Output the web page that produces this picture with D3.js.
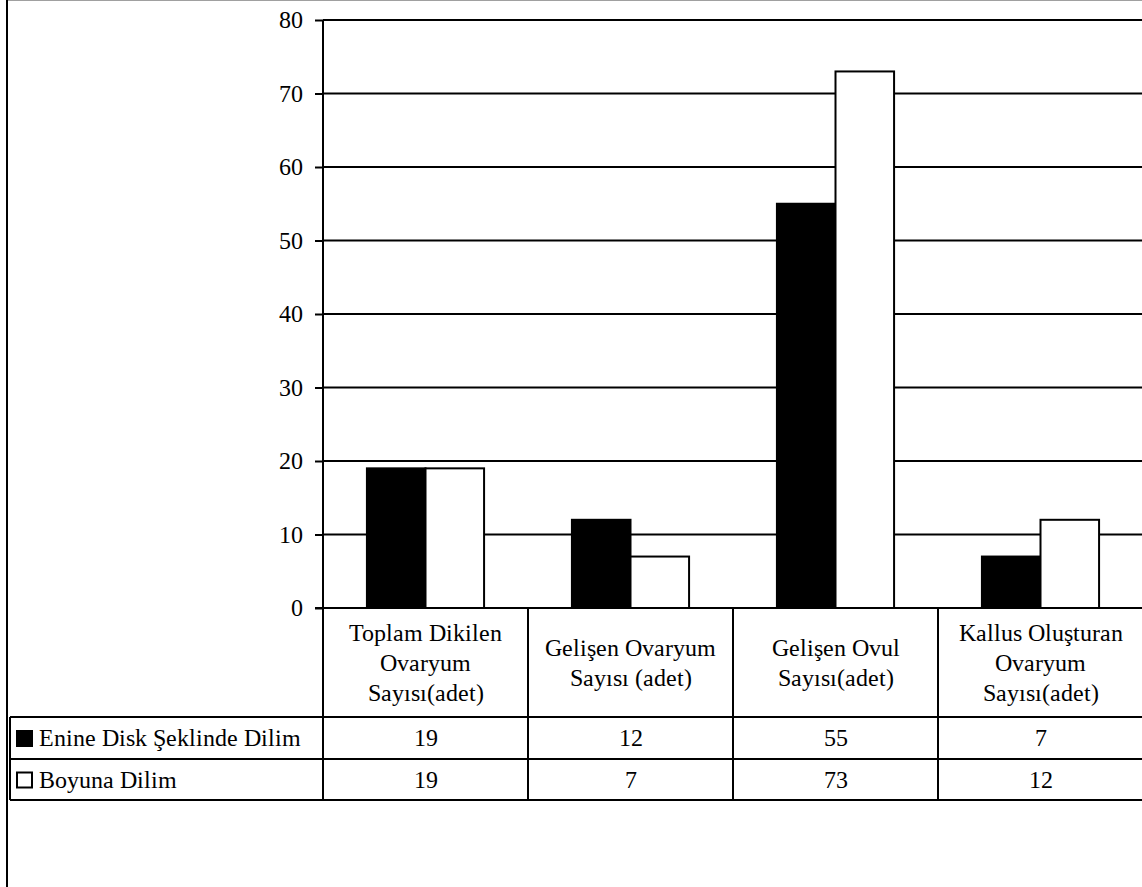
<!DOCTYPE html>
<html>
<head>
<meta charset="utf-8">
<script src="https://cdn.jsdelivr.net/npm/d3@7"></script>
<style>
  @font-face {
    font-family: ChartSerif;
    src: local("Liberation Serif"), local("LiberationSerif"), local("Tinos"), local("Times New Roman");
  }
</style>
</head>
<body style="margin:0; background:#fff">
<svg id="chart" width="1142" height="887" style="display:block"></svg>
<script>
// Ovaryum kültürü sonuçları: kesim şekline göre sayılar
const categories = [
  ["Toplam Dikilen", "Ovaryum", "Sayısı(adet)"],
  ["Gelişen Ovaryum", "Sayısı (adet)"],
  ["Gelişen Ovul", "Sayısı(adet)"],
  ["Kallus Oluşturan", "Ovaryum", "Sayısı(adet)"]
];
const seriesNames = ["Enine Disk Şeklinde Dilim", "Boyuna Dilim"];
const enineValues = [19, 12, 55, 7];
const boyunaValues = [19, 7, 73, 12];
const yTicks = [0, 10, 20, 30, 40, 50, 60, 70, 80];

const series = [
  { name: seriesNames[0], values: enineValues, fill: "#000" },
  { name: seriesNames[1], values: boyunaValues, fill: "#fff" }
];

const W = 1142, H = 887;
const plot = { left: 323, right: 1143, top: 20, bottom: 608 };
const table = { left: 10, headerBottom: 717, row1Bottom: 759, row2Bottom: 800 };
const fontSize = 24;
const FONT = "ChartSerif, Liberation Serif, Tinos, serif";

const svg = d3.select("#chart");

// outer chart frame
svg.append("line")
  .attr("x1", 7).attr("x2", W).attr("y1", 0.5).attr("y2", 0.5)
  .attr("stroke", "#a0a0a0").attr("stroke-width", 1);
svg.append("line")
  .attr("x1", 7).attr("x2", 7).attr("y1", 0).attr("y2", H)
  .attr("stroke", "#000").attr("stroke-width", 2);

const catIdx = d3.range(categories.length);
const x0 = d3.scaleBand().domain(catIdx).range([plot.left, plot.right]).padding(0);
const bw = x0.bandwidth();
const gap = bw * 1.5 / 3.5; // gap width 150%
const x1 = d3.scaleBand().domain(d3.range(series.length))
  .range([gap / 2, bw - gap / 2]).padding(0);

const y = d3.scaleLinear().domain([0, 80]).range([plot.bottom, plot.top]);

// gridlines
svg.append("g")
  .selectAll("line")
  .data(yTicks.filter(t => t > 0))
  .join("line")
  .attr("x1", plot.left).attr("x2", W)
  .attr("y1", d => y(d)).attr("y2", d => y(d))
  .attr("stroke", "#000").attr("stroke-width", 2);

// bars
const groups = svg.append("g")
  .selectAll("g")
  .data(catIdx)
  .join("g")
  .attr("transform", i => `translate(${x0(i)},0)`);

groups.selectAll("rect")
  .data(i => series.map((s, si) => ({ si, v: s.values[i], fill: s.fill })))
  .join("rect")
  .attr("x", d => x1(d.si))
  .attr("width", x1.bandwidth())
  .attr("y", d => y(d.v))
  .attr("height", d => y(0) - y(d.v))
  .attr("fill", d => d.fill)
  .attr("stroke", "#000").attr("stroke-width", 2);

// y axis
const yAxis = d3.axisLeft(y).tickValues(yTicks).tickSize(8).tickPadding(12);
const gy = svg.append("g").attr("transform", `translate(${plot.left},0)`).call(yAxis);
gy.attr("font-family", FONT).attr("font-size", fontSize);
gy.select(".domain").attr("stroke", "#000").attr("stroke-width", 2)
  .attr("d", `M0,${plot.bottom}V${plot.top}`);
gy.selectAll(".tick line").attr("stroke", "#000").attr("stroke-width", 2);
gy.selectAll(".tick text")
  .attr("font-family", FONT)
  .attr("font-size", fontSize)
  .attr("fill", "#000")
  .attr("dy", "0.33em");

// category axis line
svg.append("line")
  .attr("x1", plot.left - 8).attr("x2", W)
  .attr("y1", plot.bottom).attr("y2", plot.bottom)
  .attr("stroke", "#000").attr("stroke-width", 2);

// data table grid
const tbl = svg.append("g").attr("stroke", "#000").attr("stroke-width", 2);
[table.headerBottom, table.row1Bottom, table.row2Bottom].forEach(yy => {
  tbl.append("line").attr("x1", table.left).attr("x2", W)
    .attr("y1", yy).attr("y2", yy);
});
tbl.append("line").attr("x1", table.left).attr("x2", table.left)
  .attr("y1", table.headerBottom).attr("y2", table.row2Bottom);
catIdx.concat([categories.length]).forEach(i => {
  const xx = i < categories.length ? x0(i) : plot.right;
  tbl.append("line").attr("x1", xx).attr("x2", xx)
    .attr("y1", plot.bottom).attr("y2", table.row2Bottom);
});

// header labels
const lineH = 30;
const headerMid = (plot.bottom + table.headerBottom) / 2;
catIdx.forEach(i => {
  const lines = categories[i];
  const cx = x0(i) + bw / 2;
  lines.forEach((ln, k) => {
    svg.append("text")
      .attr("x", cx)
      .attr("y", headerMid + (k - (lines.length - 1) / 2) * lineH + 8)
      .attr("text-anchor", "middle")
      .attr("font-family", FONT)
      .attr("font-size", fontSize)
      .text(ln);
  });
});

// table rows: legend key + values
const rowMids = [
  (table.headerBottom + table.row1Bottom) / 2,
  (table.row1Bottom + table.row2Bottom) / 2
];
series.forEach((s, si) => {
  const ym = rowMids[si];
  svg.append("rect")
    .attr("x", 17).attr("y", ym - 7)
    .attr("width", 15).attr("height", 15)
    .attr("fill", s.fill).attr("stroke", "#000").attr("stroke-width", 2);
  svg.append("text")
    .attr("x", 39).attr("y", ym + 8)
    .attr("font-family", FONT)
    .attr("font-size", fontSize)
    .text(s.name);
  s.values.forEach((v, i) => {
    svg.append("text")
      .attr("x", x0(i) + bw / 2)
      .attr("y", ym + 8)
      .attr("text-anchor", "middle")
      .attr("font-family", FONT)
      .attr("font-size", fontSize)
      .text(v);
  });
});
</script>
</body>
</html>
